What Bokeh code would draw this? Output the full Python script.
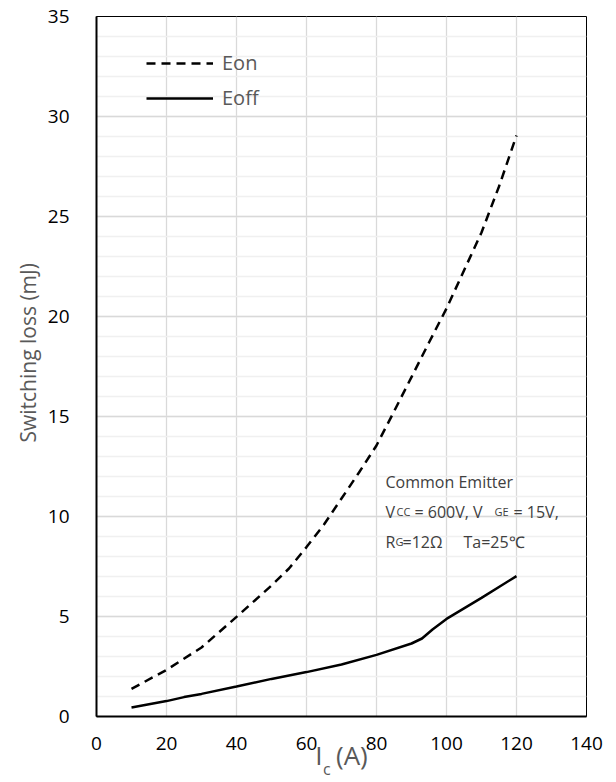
import math
from bokeh.plotting import figure
from bokeh.models import Range1d, Legend, LegendItem, FixedTicker, ColumnDataSource, LinearAxis, Label
from bokeh.embed import file_html
from bokeh.resources import INLINE

# ---- data ----
ic_eon = [10, 20, 30, 40, 50, 55, 60, 65, 70, 75, 80, 85, 90, 95, 100, 105, 110, 115, 120]
eon = [1.38, 2.33, 3.45, 4.98, 6.55, 7.4, 8.47, 9.6, 10.9, 12.2, 13.55, 15.25, 16.97, 18.7, 20.4, 22.3, 24.2, 26.5, 29.05]
ic_eoff = [10, 20, 25, 30, 40, 50, 60, 70, 80, 90, 93, 96, 100, 110, 120]
eoff = [0.45, 0.77, 0.97, 1.13, 1.5, 1.88, 2.22, 2.6, 3.08, 3.65, 3.9, 4.35, 4.88, 5.93, 7.02]
x_ticks = [0, 20, 40, 60, 80, 100, 120, 140]
y_ticks = [0, 5, 10, 15, 20, 25, 30, 35]
series_names = ["Eon", "Eoff"]
NB = "\u00a0"

W, H = 608, 782
ML, MR, MT, MB = 96, 22, 16, 66
FL, FT = ML, MT
FB = H - MB
XMAX, YMAX = 140, 35
sx = (W - ML - MR) / XMAX
sy = (H - MT - MB) / YMAX

def dx(px):
    return (px - FL) / sx

def dy(py):
    return (FB - py) / sy

p = figure(width=W, height=H, output_backend="svg", toolbar_location=None,
           x_range=Range1d(0, XMAX), y_range=Range1d(0, YMAX),
           min_border_left=ML, min_border_right=MR, min_border_top=MT, min_border_bottom=MB)
p.background_fill_color = "white"
p.border_fill_color = "white"
p.outline_line_color = "black"
p.outline_line_width = 1

FONT = "Open Sans"
TITLE_C = "#595959"

p.xaxis.ticker = FixedTicker(ticks=x_ticks)
p.yaxis.ticker = FixedTicker(ticks=y_ticks, minor_ticks=[i for i in range(0, 36)])
for ax in (p.xaxis, p.yaxis):
    ax.axis_line_color = "black"
    ax.axis_line_width = 2
    ax.major_tick_line_color = None
    ax.minor_tick_line_color = None
    ax.major_tick_out = 0
    ax.major_tick_in = 0
    ax.major_label_text_font = FONT
    ax.major_label_text_font_size = "19px"
    ax.major_label_text_color = "black"
    ax.axis_label_text_font = FONT
    ax.axis_label_text_font_style = "normal"
    ax.axis_label_text_color = TITLE_C
p.xaxis.major_label_standoff = 20
p.yaxis.major_label_standoff = 23

p.yaxis.axis_label = NB * 5 + "Switching loss (mJ)"
p.yaxis.axis_label_text_font_size = "21px"
p.yaxis.axis_label_standoff = 3

p.xaxis.axis_label = "I" + NB * 2 + "(A)"
p.xaxis.axis_label_text_font_size = "26px"
p.xaxis.axis_label_standoff = -16

sub_ax = LinearAxis(ticker=FixedTicker(ticks=[]), axis_line_color=None,
                    major_tick_line_color=None, minor_tick_line_color=None,
                    major_tick_out=0, major_tick_in=0, major_label_standoff=0,
                    major_label_text_font_size="0px",
                    axis_label="c" + NB * 7, axis_label_standoff=-18,
                    axis_label_text_font=FONT, axis_label_text_font_size="16px",
                    axis_label_text_font_style="normal", axis_label_text_color=TITLE_C)
p.add_layout(sub_ax, "below")

p.xgrid.grid_line_color = "#d9d9d9"
p.xgrid.grid_line_width = 1.3
p.ygrid.grid_line_color = "#d9d9d9"
p.ygrid.grid_line_width = 1.3
p.ygrid.minor_grid_line_color = "#f0f0f0"
p.ygrid.minor_grid_line_width = 1.3

src_on = ColumnDataSource(dict(x=ic_eon, y=eon))
src_off = ColumnDataSource(dict(x=ic_eoff, y=eoff))
r_on = p.line("x", "y", source=src_on, line_color="black", line_width=2.5, line_dash="9 6")
r_off = p.line("x", "y", source=src_off, line_color="black", line_width=2.5)

legend = Legend(items=[LegendItem(label=series_names[0], renderers=[r_on]),
                       LegendItem(label=series_names[1], renderers=[r_off])],
                location=(50, FB - 53 - 54 - FT + 12), orientation="vertical",
                glyph_width=67, glyph_height=20, label_height=20, label_standoff=9,
                spacing=8, padding=0, margin=0,
                border_line_color=None, background_fill_alpha=0,
                label_text_font=FONT, label_text_font_size="20px", label_text_color=TITLE_C)
p.add_layout(legend)

# annotation text
TC = "#404040"
def note(px, py, txt, size):
    p.add_layout(Label(x=dx(px), y=dy(py), text=txt, text_align="left", text_baseline="alphabetic",
                       text_font=FONT, text_font_size=size, text_color=TC))

note(385, 481, "Common Emitter", "16px")
note(385, 511, "V", "16px")
note(396, 511, "CC", "11px")
note(414, 511, "= 600V, V", "16px")
note(494, 511, "GE", "11px")
note(513, 511, "= 15V,", "16px")
note(385, 541, "R", "16px")
note(395, 541, "G", "11px")
note(402, 541, "=12Ω", "16px")
note(463, 541, "Ta=25℃", "16px")

open("out.html", "w").write(file_html(p, INLINE))
